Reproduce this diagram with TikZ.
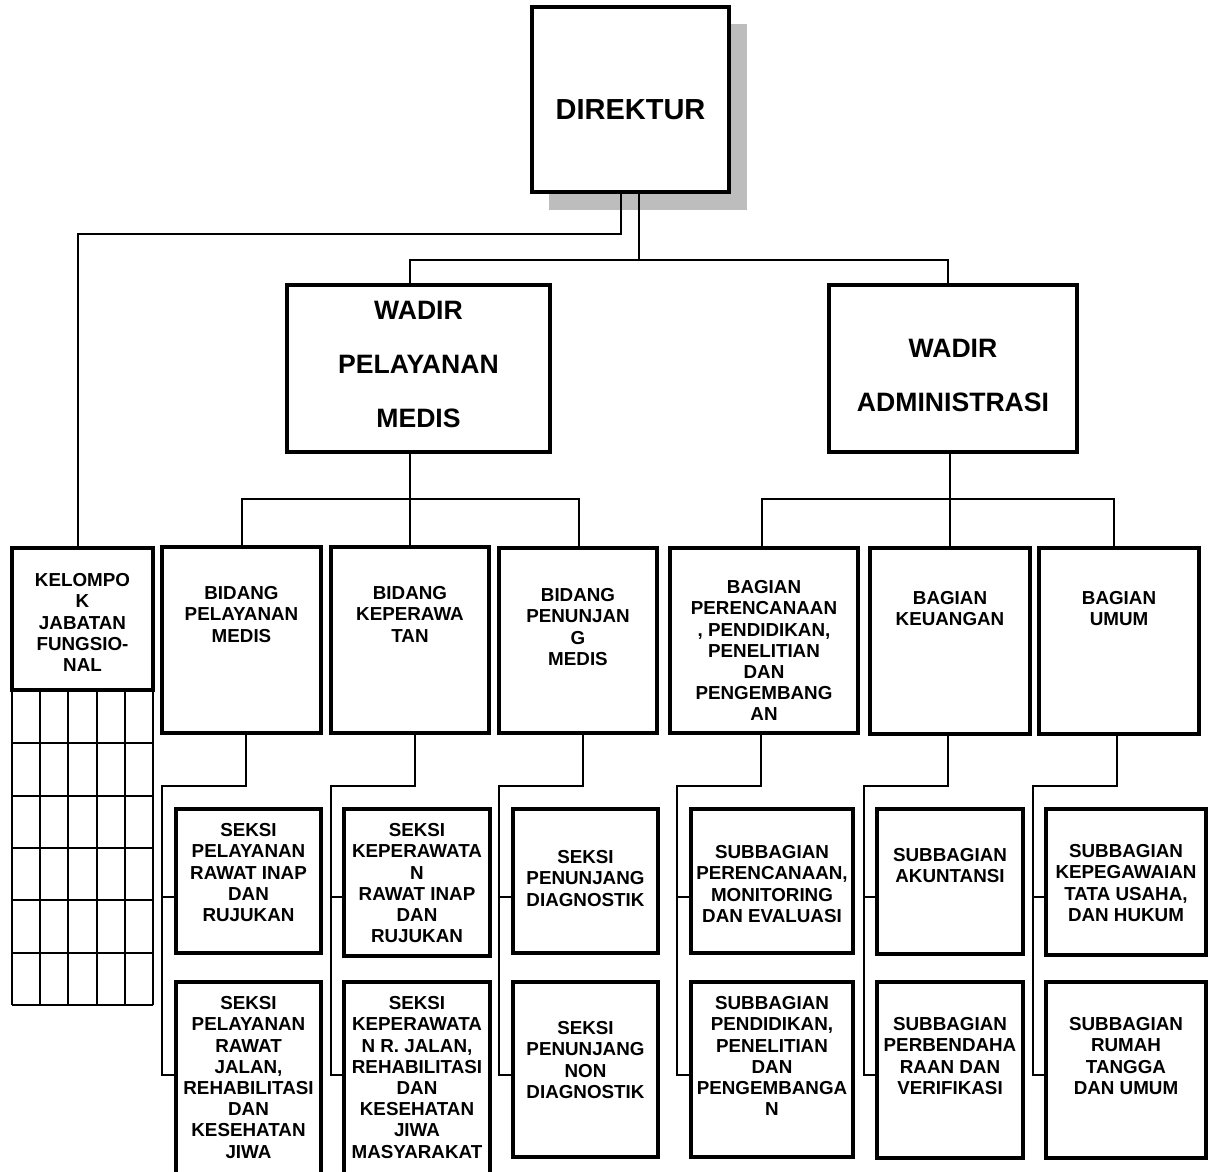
\documentclass[tikz,border=0pt]{standalone}
\usepackage{fontspec}
\setmainfont{Liberation Sans}
\usetikzlibrary{fit}
\begin{document}
\begin{tikzpicture}[x=1pt,y=-1pt,
  bx/.style={draw, line width=3.2pt, inner sep=0pt, fill=white},
  conn/.style={line width=2pt},
  gridl/.style={line width=2.4pt},
  lbl/.style={font=\bfseries\fontsize{18.8}{21.2}\selectfont, align=center, inner sep=0pt},
  big/.style={font=\bfseries\fontsize{26.6}{54}\selectfont, align=center, inner sep=0pt}]
\clip (0,0) rectangle (1208,1171);
\fill[white] (0,0) rectangle (1208,1171);
% shadow of DIREKTUR
\fill[black!26] (549,24) rectangle (747,210);

% boxes
\node[bx, fit={(532,7) (729,192)}] (dir) {};
\node[bx, fit={(287,285) (550,452)}] (wpm) {};
\node[bx, fit={(829,285) (1077,452)}] (wa) {};
\node[bx, fit={(12,548) (153,690)}] (kel) {};
\node[bx, fit={(162,547) (321,733)}] (bpm) {};
\node[bx, fit={(331,547) (489,733)}] (bkep) {};
\node[bx, fit={(499,548) (657,733)}] (bpen) {};
\node[bx, fit={(670,548) (858,733)}] (bper) {};
\node[bx, fit={(870,548) (1030,734)}] (bkeu) {};
\node[bx, fit={(1039,548) (1199,734)}] (bum) {};
\node[bx, fit={(176,809) (321,953)}] (s11) {};
\node[bx, fit={(176,982) (321,1185)}] (s12) {};
\node[bx, fit={(344,809) (490,956)}] (s21) {};
\node[bx, fit={(344,982) (490,1185)}] (s22) {};
\node[bx, fit={(513,809) (658,953)}] (s31) {};
\node[bx, fit={(513,982) (658,1157)}] (s32) {};
\node[bx, fit={(691,809) (853,953)}] (s41) {};
\node[bx, fit={(691,982) (853,1157)}] (s42) {};
\node[bx, fit={(877,809) (1023,954)}] (s51) {};
\node[bx, fit={(877,982) (1023,1158)}] (s52) {};
\node[bx, fit={(1046,809) (1206,955)}] (s61) {};
\node[bx, fit={(1046,982) (1206,1158)}] (s62) {};

% grid under KELOMPOK
\foreach \gx in {12,40,68,97,125,153} \draw[gridl] (\gx,690) -- (\gx,1005);
\foreach \gy in {743,796,848,900,953,1005} \draw[gridl] (12,\gy) -- (153,\gy);

% connectors
\draw[conn] ([xshift=-9.5pt]dir.south) -- ++(0,40) -| ([xshift=-4.5pt]kel.north);
\coordinate (j1) at ([xshift=8.5pt,yshift=-66pt]dir.south);
\draw[conn] ([xshift=8.5pt]dir.south) -- (j1);
\draw[conn] ([xshift=-8.5pt]wpm.north) |- (j1) -| ([xshift=-5pt]wa.north);

\coordinate (j2) at ([xshift=-8.5pt,yshift=-45pt]wpm.south);
\draw[conn] ([xshift=-8.5pt]wpm.south) -- (j2);
\draw[conn] (bpm.north) |- (j2) -| ([xshift=1pt]bpen.north);
\draw[conn] (bkep.north) -- (bkep.north |- j2);

\coordinate (j3) at ([xshift=-3pt,yshift=-45pt]wa.south);
\draw[conn] ([xshift=-3pt]wa.south) -- (j3);
\draw[conn] ([xshift=-2pt]bper.north) |- (j3) -| ([xshift=-5pt]bum.north);
\draw[conn] (bkeu.north) -- (bkeu.north |- j3);

\coordinate (v1) at (162,786);
\coordinate (v2) at (331,786);
\coordinate (v3) at (499,786);
\coordinate (v4) at (677,786);
\coordinate (v5) at (864,786);
\coordinate (v6) at (1033,786);
\draw[conn] ([xshift=4.5pt]bpm.south) |- (v1) |- ([yshift=-16pt]s11.west);
\draw[conn] (v1) |- ([yshift=8.5pt]s12.west);
\draw[conn] ([xshift=5pt]bkep.south) |- (v2) |- ([yshift=-14.5pt]s21.west);
\draw[conn] (v2) |- ([yshift=8.5pt]s22.west);
\draw[conn] ([xshift=5pt]bpen.south) |- (v3) |- ([yshift=-16pt]s31.west);
\draw[conn] (v3) |- ([yshift=-5.5pt]s32.west);
\draw[conn] ([xshift=-3pt]bper.south) |- (v4) |- ([yshift=-16pt]s41.west);
\draw[conn] (v4) |- ([yshift=-5.5pt]s42.west);
\draw[conn] ([xshift=-2pt]bkeu.south) |- (v5) |- ([yshift=-15.5pt]s51.west);
\draw[conn] (v5) |- ([yshift=-5pt]s52.west);
\draw[conn] ([xshift=-2pt]bum.south) |- (v6) |- ([yshift=-15pt]s61.west);
\draw[conn] (v6) |- ([yshift=-5pt]s62.west);

% texts
\node[big, anchor=center, font=\bfseries\fontsize{29}{35}\selectfont] (dirt) at ([yshift=-10.5pt]dir.center) {DIREKTUR};
\node[big, anchor=north] (wpmt) at ([yshift=-18pt]wpm.north) {WADIR\\PELAYANAN\\MEDIS};
\node[big, anchor=north] (wat) at ([yshift=-56pt]wa.north) {WADIR\\ADMINISTRASI};

\node[lbl, anchor=north] (kelt) at ([yshift=-27pt]kel.north) {KELOMPO\\K\\JABATAN\\FUNGSIO-\\NAL};
\node[lbl, anchor=north] (bpmt) at ([yshift=-41pt]bpm.north) {BIDANG\\PELAYANAN\\MEDIS};
\node[lbl, anchor=north] (bkept) at ([yshift=-41pt]bkep.north) {BIDANG\\KEPERAWA\\TAN};
\node[lbl, anchor=north] (bpent) at ([yshift=-42pt]bpen.north) {BIDANG\\PENUNJAN\\G\\MEDIS};
\node[lbl, anchor=north] (bpert) at ([yshift=-34pt]bper.north) {BAGIAN\\PERENCANAAN\\, PENDIDIKAN,\\PENELITIAN\\DAN\\PENGEMBANG\\AN};
\node[lbl, anchor=north] (bkeut) at ([yshift=-45pt]bkeu.north) {BAGIAN\\KEUANGAN};
\node[lbl, anchor=north] (bumt) at ([yshift=-45pt]bum.north) {BAGIAN\\UMUM};

\node[lbl, anchor=north] (s11t) at ([yshift=-16pt]s11.north) {SEKSI\\PELAYANAN\\RAWAT INAP\\DAN\\RUJUKAN};
\node[lbl, anchor=north] (s21t) at ([yshift=-16pt]s21.north) {SEKSI\\KEPERAWATA\\N\\RAWAT INAP\\DAN\\RUJUKAN};
\node[lbl, anchor=north] (s31t) at ([yshift=-43pt]s31.north) {SEKSI\\PENUNJANG\\DIAGNOSTIK};
\node[lbl, anchor=north] (s41t) at ([yshift=-38pt]s41.north) {SUBBAGIAN\\PERENCANAAN,\\MONITORING\\DAN EVALUASI};
\node[lbl, anchor=north] (s51t) at ([yshift=-41pt]s51.north) {SUBBAGIAN\\AKUNTANSI};
\node[lbl, anchor=north] (s61t) at ([yshift=-37pt]s61.north) {SUBBAGIAN\\KEPEGAWAIAN\\TATA USAHA,\\DAN HUKUM};

\node[lbl, anchor=north] (s12t) at ([yshift=-16pt]s12.north) {SEKSI\\PELAYANAN\\RAWAT\\JALAN,\\REHABILITASI\\DAN\\KESEHATAN\\JIWA};
\node[lbl, anchor=north] (s22t) at ([yshift=-16pt]s22.north) {SEKSI\\KEPERAWATA\\N R. JALAN,\\REHABILITASI\\DAN\\KESEHATAN\\JIWA\\MASYARAKAT};
\node[lbl, anchor=north] (s32t) at ([yshift=-41pt]s32.north) {SEKSI\\PENUNJANG\\NON\\DIAGNOSTIK};
\node[lbl, anchor=north] (s42t) at ([yshift=-16pt]s42.north) {SUBBAGIAN\\PENDIDIKAN,\\PENELITIAN\\DAN\\PENGEMBANGA\\N};
\node[lbl, anchor=north] (s52t) at ([yshift=-37pt]s52.north) {SUBBAGIAN\\PERBENDAHA\\RAAN DAN\\VERIFIKASI};
\node[lbl, anchor=north] (s62t) at ([yshift=-37pt]s62.north) {SUBBAGIAN\\RUMAH\\TANGGA\\DAN UMUM};
\end{tikzpicture}
\end{document}
